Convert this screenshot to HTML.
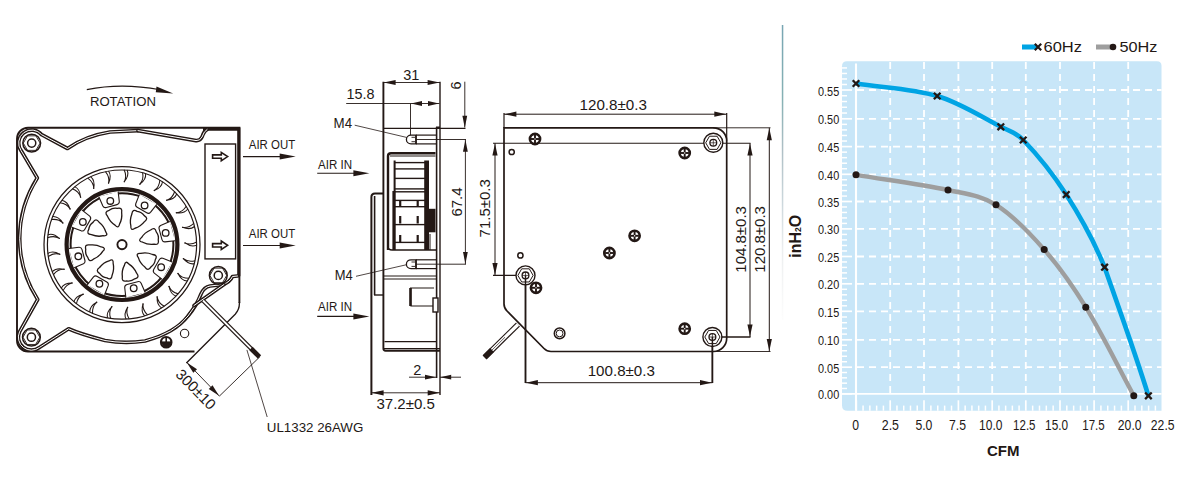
<!DOCTYPE html>
<html><head><meta charset="utf-8"><style>
html,body{margin:0;padding:0;background:#fff;}
body{width:1200px;height:500px;overflow:hidden;font-family:"Liberation Sans",sans-serif;}
svg{display:block;}
</style></head><body>
<svg width="1200" height="500" viewBox="0 0 1200 500">
<rect width="1200" height="500" fill="#fff"/>
<path d="M86.8,89.6 Q122,82.5 160,89.8" fill="none" stroke="#231815" stroke-width="1.1"/>
<path d="M173.2,93.4 L156.5,86.6 L155.8,92.2 Z" fill="#231815"/>
<text x="89.9" y="105.9" font-family="Liberation Sans" font-size="12" font-weight="normal" text-anchor="start" fill="#231815" textLength="66" lengthAdjust="spacingAndGlyphs">ROTATION</text>
<path d="M194.5,351.5 H28 A11,11 0 0 1 17,340.5 V138.8 A11,11 0 0 1 28,127.8 H239.4 V303" fill="none" stroke="#231815" stroke-width="1.9"/>
<path d="M239.4,302 V303.5 Q239.4,309.6 235.2,314.2 L186.4,363" fill="none" stroke="#231815" stroke-width="1.35"/>
<path d="M203,129.2 H238.8 V276.2" fill="none" stroke="#231815" stroke-width="3.2"/>
<rect x="205" y="144" width="30.6" height="114.9" fill="none" stroke="#231815" stroke-width="1.4"/>
<path d="M212.6,154.9 H221.3 V152.4 L227.6,156.6 L221.3,160.8 V158.3 H212.6 Z" fill="none" stroke="#231815" stroke-width="1.6" stroke-linejoin="miter"/>
<path d="M212.6,243.6 H221.3 V241.1 L227.6,245.3 L221.3,249.5 V247 H212.6 Z" fill="none" stroke="#231815" stroke-width="1.6" stroke-linejoin="miter"/>
<text x="248.8" y="148.7" font-family="Liberation Sans" font-size="12" font-weight="normal" text-anchor="start" fill="#231815" textLength="46.4" lengthAdjust="spacingAndGlyphs">AIR OUT</text>
<line x1="243" y1="156.6" x2="284" y2="156.6" stroke="#231815" stroke-width="1.1" stroke-linecap="butt"/>
<path d="M295.7,156.6 L279.7,159.6 L279.7,153.6 Z" fill="#231815"/>
<text x="248.8" y="237.8" font-family="Liberation Sans" font-size="12" font-weight="normal" text-anchor="start" fill="#231815" textLength="46.4" lengthAdjust="spacingAndGlyphs">AIR OUT</text>
<line x1="243" y1="245.5" x2="284" y2="245.5" stroke="#231815" stroke-width="1.1" stroke-linecap="butt"/>
<path d="M295.7,245.5 L279.7,248.5 L279.7,242.5 Z" fill="#231815"/>
<path d="M138,130.6 L110,132 Q85,136 67.5,148.5 L41.66,134.74 A13,13 0 0 0 21.05,150.56 L37.3,178 A112.4,112.4 0 0 0 37.7,299.5 L19.52,331.91 A13,13 0 0 0 39.4,347.44 L68.6,328.8 Q80,334 105,340.5 Q125,344 145,341 Q175,333 188,316 Q197,305 201,294 Q204,287 210,286 L223,284.5 Q230,282 232.5,276.5 L237.5,276" fill="none" stroke="#231815" stroke-width="3.7" stroke-linejoin="round" stroke-linecap="round" />
<path d="M138,130.6 L110,132 Q85,136 67.5,148.5 L41.66,134.74 A13,13 0 0 0 21.05,150.56 L37.3,178 A112.4,112.4 0 0 0 37.7,299.5 L19.52,331.91 A13,13 0 0 0 39.4,347.44 L68.6,328.8 Q80,334 105,340.5 Q125,344 145,341 Q175,333 188,316 Q197,305 201,294 Q204,287 210,286 L223,284.5 Q230,282 232.5,276.5 L237.5,276" fill="none" stroke="#fff" stroke-width="1.0" stroke-linejoin="round" stroke-linecap="round"/>
<path d="M138,130.6 L196,140.6 Q200,141 202,137 Q204,131 207,129.5" fill="none" stroke="#231815" stroke-width="3.7" stroke-linejoin="round" stroke-linecap="round" />
<path d="M138,130.6 L196,140.6 Q200,141 202,137 Q204,131 207,129.5" fill="none" stroke="#fff" stroke-width="1.0" stroke-linejoin="round" stroke-linecap="round"/>
<path d="M224,284.5 L194,305.5" fill="none" stroke="#231815" stroke-width="3.7" stroke-linejoin="round" stroke-linecap="round" />
<path d="M224,284.5 L194,305.5" fill="none" stroke="#fff" stroke-width="1.0" stroke-linejoin="round" stroke-linecap="round"/>
<circle cx="31.7" cy="143.1" r="8.9" fill="none" stroke="#231815" stroke-width="1.5"/>
<path d="M40.1,143.1 L35.9,150.37 L27.5,150.37 L23.3,143.1 L27.5,135.83 L35.9,135.83 Z" fill="none" stroke="#231815" stroke-width="0.9" stroke-linejoin="round"/>
<circle cx="31.7" cy="143.1" r="4.1" fill="none" stroke="#231815" stroke-width="1.5"/>
<circle cx="31.4" cy="337.2" r="8.9" fill="none" stroke="#231815" stroke-width="1.5"/>
<path d="M39.8,337.2 L35.6,344.47 L27.2,344.47 L23,337.2 L27.2,329.93 L35.6,329.93 Z" fill="none" stroke="#231815" stroke-width="0.9" stroke-linejoin="round"/>
<circle cx="31.4" cy="337.2" r="4.1" fill="none" stroke="#231815" stroke-width="1.5"/>
<circle cx="218.3" cy="275.4" r="8.9" fill="none" stroke="#231815" stroke-width="1.5"/>
<path d="M226.7,275.4 L222.5,282.67 L214.1,282.67 L209.9,275.4 L214.1,268.13 L222.5,268.13 Z" fill="none" stroke="#231815" stroke-width="0.9" stroke-linejoin="round"/>
<circle cx="218.3" cy="275.4" r="4.1" fill="none" stroke="#231815" stroke-width="1.5"/>
<circle cx="184.6" cy="333.5" r="4.2" fill="none" stroke="#231815" stroke-width="1.1"/>
<circle cx="166.2" cy="342.2" r="5.2" fill="#fff" stroke="#231815" stroke-width="2.2"/>
<line x1="166.2" y1="337.5" x2="166.2" y2="347" stroke="#231815" stroke-width="1.6" stroke-linecap="butt"/>
<line x1="161.5" y1="342.2" x2="171" y2="342.2" stroke="#231815" stroke-width="1.6" stroke-linecap="butt"/>
<path d="M161.5,342.2 A4.7,4.7 0 0 0 171,342.2 Z" fill="#231815"/>
<circle cx="122" cy="244.6" r="78" fill="none" stroke="#231815" stroke-width="1.25"/>
<circle cx="122" cy="244.6" r="74.6" fill="none" stroke="#231815" stroke-width="1.2"/>
<path d="M195.06,260.66 Q188.13,262.44 183.41,258.66 Q188.5,264.8 194.32,263.71" fill="none" stroke="#231815" stroke-width="1.05" stroke-linejoin="round"/>
<circle cx="183.41" cy="258.66" r="0.7" fill="#231815" stroke="none" stroke-width="0"/>
<path d="M188.77,278.33 Q181.62,278.33 177.98,273.49 Q181.38,280.71 187.29,281.09" fill="none" stroke="#231815" stroke-width="1.05" stroke-linejoin="round"/>
<circle cx="177.98" cy="273.49" r="0.7" fill="#231815" stroke="none" stroke-width="0"/>
<path d="M178.28,293.87 Q171.36,292.1 169.04,286.51 Q170.54,294.34 176.17,296.18" fill="none" stroke="#231815" stroke-width="1.05" stroke-linejoin="round"/>
<circle cx="169.04" cy="286.51" r="0.7" fill="#231815" stroke="none" stroke-width="0"/>
<path d="M164.26,306.32 Q157.99,302.88 157.14,296.89 Q156.64,304.85 161.64,308.03" fill="none" stroke="#231815" stroke-width="1.05" stroke-linejoin="round"/>
<circle cx="157.14" cy="296.89" r="0.7" fill="#231815" stroke="none" stroke-width="0"/>
<path d="M147.58,314.89 Q142.37,310 143.03,303.99 Q140.57,311.57 144.62,315.9" fill="none" stroke="#231815" stroke-width="1.05" stroke-linejoin="round"/>
<circle cx="143.03" cy="303.99" r="0.7" fill="#231815" stroke="none" stroke-width="0"/>
<path d="M129.3,319.04 Q125.47,313.01 127.6,307.35 Q123.33,314.09 126.18,319.28" fill="none" stroke="#231815" stroke-width="1.05" stroke-linejoin="round"/>
<circle cx="127.6" cy="307.35" r="0.7" fill="#231815" stroke="none" stroke-width="0"/>
<path d="M110.56,318.52 Q108.34,311.72 111.82,306.77 Q106.01,312.24 107.47,317.98" fill="none" stroke="#231815" stroke-width="1.05" stroke-linejoin="round"/>
<circle cx="111.82" cy="306.77" r="0.7" fill="#231815" stroke="none" stroke-width="0"/>
<path d="M92.53,313.35 Q92.08,306.22 96.68,302.29 Q89.69,306.13 89.68,312.06" fill="none" stroke="#231815" stroke-width="1.05" stroke-linejoin="round"/>
<circle cx="96.68" cy="302.29" r="0.7" fill="#231815" stroke="none" stroke-width="0"/>
<path d="M76.36,303.86 Q77.69,296.84 83.13,294.18 Q75.41,296.17 73.92,301.9" fill="none" stroke="#231815" stroke-width="1.05" stroke-linejoin="round"/>
<circle cx="83.13" cy="294.18" r="0.7" fill="#231815" stroke="none" stroke-width="0"/>
<path d="M63.06,290.65 Q66.09,284.18 72.02,282.95 Q64.04,282.96 61.18,288.14" fill="none" stroke="#231815" stroke-width="1.05" stroke-linejoin="round"/>
<circle cx="72.02" cy="282.95" r="0.7" fill="#231815" stroke="none" stroke-width="0"/>
<path d="M53.46,274.55 Q58.01,269.04 64.05,269.32 Q56.33,267.34 52.26,271.65" fill="none" stroke="#231815" stroke-width="1.05" stroke-linejoin="round"/>
<circle cx="64.05" cy="269.32" r="0.7" fill="#231815" stroke="none" stroke-width="0"/>
<path d="M48.16,256.56 Q53.94,252.35 59.72,254.13 Q52.73,250.29 47.73,253.46" fill="none" stroke="#231815" stroke-width="1.05" stroke-linejoin="round"/>
<circle cx="59.72" cy="254.13" r="0.7" fill="#231815" stroke="none" stroke-width="0"/>
<path d="M47.51,237.82 Q54.15,235.19 59.31,238.34 Q53.49,232.89 47.86,234.71" fill="none" stroke="#231815" stroke-width="1.05" stroke-linejoin="round"/>
<circle cx="59.31" cy="238.34" r="0.7" fill="#231815" stroke="none" stroke-width="0"/>
<path d="M51.53,219.51 Q58.62,218.61 62.84,222.95 Q58.56,216.22 52.65,216.58" fill="none" stroke="#231815" stroke-width="1.05" stroke-linejoin="round"/>
<circle cx="62.84" cy="222.95" r="0.7" fill="#231815" stroke="none" stroke-width="0"/>
<path d="M59.99,202.77 Q67.08,203.66 70.08,208.92 Q67.61,201.34 61.79,200.21" fill="none" stroke="#231815" stroke-width="1.05" stroke-linejoin="round"/>
<circle cx="70.08" cy="208.92" r="0.7" fill="#231815" stroke="none" stroke-width="0"/>
<path d="M72.34,188.66 Q78.98,191.29 80.59,197.13 Q80.08,189.17 74.72,186.63" fill="none" stroke="#231815" stroke-width="1.05" stroke-linejoin="round"/>
<circle cx="80.59" cy="197.13" r="0.7" fill="#231815" stroke="none" stroke-width="0"/>
<path d="M87.81,178.07 Q93.59,182.27 93.69,188.32 Q95.18,180.48 90.62,176.7" fill="none" stroke="#231815" stroke-width="1.05" stroke-linejoin="round"/>
<circle cx="93.69" cy="188.32" r="0.7" fill="#231815" stroke="none" stroke-width="0"/>
<path d="M105.43,171.66 Q109.99,177.16 108.58,183.05 Q111.97,175.83 108.5,171.03" fill="none" stroke="#231815" stroke-width="1.05" stroke-linejoin="round"/>
<circle cx="108.58" cy="183.05" r="0.7" fill="#231815" stroke="none" stroke-width="0"/>
<path d="M124.09,169.83 Q127.14,176.29 124.31,181.64 Q129.39,175.49 127.22,169.98" fill="none" stroke="#231815" stroke-width="1.05" stroke-linejoin="round"/>
<circle cx="124.31" cy="181.64" r="0.7" fill="#231815" stroke="none" stroke-width="0"/>
<path d="M142.62,172.7 Q143.96,179.72 139.89,184.19 Q146.34,179.5 145.61,173.62" fill="none" stroke="#231815" stroke-width="1.05" stroke-linejoin="round"/>
<circle cx="139.89" cy="184.19" r="0.7" fill="#231815" stroke="none" stroke-width="0"/>
<path d="M159.85,180.08 Q159.41,187.22 154.35,190.54 Q161.76,187.6 162.52,181.73" fill="none" stroke="#231815" stroke-width="1.05" stroke-linejoin="round"/>
<circle cx="154.35" cy="190.54" r="0.7" fill="#231815" stroke="none" stroke-width="0"/>
<path d="M174.71,191.52 Q172.5,198.32 166.78,200.29 Q174.69,199.28 176.88,193.78" fill="none" stroke="#231815" stroke-width="1.05" stroke-linejoin="round"/>
<circle cx="166.78" cy="200.29" r="0.7" fill="#231815" stroke="none" stroke-width="0"/>
<path d="M186.25,206.3 Q182.43,212.34 176.39,212.81 Q184.31,213.81 187.8,209.02" fill="none" stroke="#231815" stroke-width="1.05" stroke-linejoin="round"/>
<circle cx="176.39" cy="212.81" r="0.7" fill="#231815" stroke="none" stroke-width="0"/>
<path d="M193.76,223.48 Q188.55,228.38 182.59,227.34 Q190.01,230.27 194.58,226.5" fill="none" stroke="#231815" stroke-width="1.05" stroke-linejoin="round"/>
<circle cx="182.59" cy="227.34" r="0.7" fill="#231815" stroke="none" stroke-width="0"/>
<path d="M196.75,241.99 Q190.49,245.44 184.98,242.95 Q191.43,247.63 196.8,245.12" fill="none" stroke="#231815" stroke-width="1.05" stroke-linejoin="round"/>
<circle cx="184.98" cy="242.95" r="0.7" fill="#231815" stroke="none" stroke-width="0"/>
<circle cx="122" cy="244.6" r="55.4" fill="none" stroke="#231815" stroke-width="4.2"/>
<circle cx="122" cy="244.6" r="51.4" fill="none" stroke="#231815" stroke-width="2.0"/>
<g transform="translate(110.3,200.94) rotate(-15)"><path d="M-10,-7 L-8.5,3 Q-8,5.3 -5.5,5.3 L5.5,5.3 Q8,5.3 8.5,3 L10,-7" fill="#fff" stroke="#231815" stroke-width="1.1" stroke-linejoin="round"/></g>
<circle cx="110.3" cy="200.94" r="3.3" fill="#fff" stroke="#231815" stroke-width="1.3"/>
<g transform="translate(144.6,205.46) rotate(30)"><path d="M-10,-7 L-8.5,3 Q-8,5.3 -5.5,5.3 L5.5,5.3 Q8,5.3 8.5,3 L10,-7" fill="#fff" stroke="#231815" stroke-width="1.1" stroke-linejoin="round"/></g>
<circle cx="144.6" cy="205.46" r="3.3" fill="#fff" stroke="#231815" stroke-width="1.3"/>
<g transform="translate(165.66,232.9) rotate(75)"><path d="M-10,-7 L-8.5,3 Q-8,5.3 -5.5,5.3 L5.5,5.3 Q8,5.3 8.5,3 L10,-7" fill="#fff" stroke="#231815" stroke-width="1.1" stroke-linejoin="round"/></g>
<circle cx="165.66" cy="232.9" r="3.3" fill="#fff" stroke="#231815" stroke-width="1.3"/>
<g transform="translate(161.14,267.2) rotate(120)"><path d="M-10,-7 L-8.5,3 Q-8,5.3 -5.5,5.3 L5.5,5.3 Q8,5.3 8.5,3 L10,-7" fill="#fff" stroke="#231815" stroke-width="1.1" stroke-linejoin="round"/></g>
<circle cx="161.14" cy="267.2" r="3.3" fill="#fff" stroke="#231815" stroke-width="1.3"/>
<g transform="translate(133.7,288.26) rotate(165)"><path d="M-10,-7 L-8.5,3 Q-8,5.3 -5.5,5.3 L5.5,5.3 Q8,5.3 8.5,3 L10,-7" fill="#fff" stroke="#231815" stroke-width="1.1" stroke-linejoin="round"/></g>
<circle cx="133.7" cy="288.26" r="3.3" fill="#fff" stroke="#231815" stroke-width="1.3"/>
<g transform="translate(99.4,283.74) rotate(210)"><path d="M-10,-7 L-8.5,3 Q-8,5.3 -5.5,5.3 L5.5,5.3 Q8,5.3 8.5,3 L10,-7" fill="#fff" stroke="#231815" stroke-width="1.1" stroke-linejoin="round"/></g>
<circle cx="99.4" cy="283.74" r="3.3" fill="#fff" stroke="#231815" stroke-width="1.3"/>
<g transform="translate(78.34,256.3) rotate(255)"><path d="M-10,-7 L-8.5,3 Q-8,5.3 -5.5,5.3 L5.5,5.3 Q8,5.3 8.5,3 L10,-7" fill="#fff" stroke="#231815" stroke-width="1.1" stroke-linejoin="round"/></g>
<circle cx="78.34" cy="256.3" r="3.3" fill="#fff" stroke="#231815" stroke-width="1.3"/>
<g transform="translate(82.86,222) rotate(300)"><path d="M-10,-7 L-8.5,3 Q-8,5.3 -5.5,5.3 L5.5,5.3 Q8,5.3 8.5,3 L10,-7" fill="#fff" stroke="#231815" stroke-width="1.1" stroke-linejoin="round"/></g>
<circle cx="82.86" cy="222" r="3.3" fill="#fff" stroke="#231815" stroke-width="1.3"/>
<path d="M107.38,216 Q103.77,211.71 109.2,210.36 Q112.72,207.53 117.22,208.36 Q122.66,207.01 121.66,212.52 Q122.41,218.87 119.62,223.86 Q118.62,229.37 115.02,225.08 Q109.97,221.99 107.38,216 Z" fill="none" stroke="#231815" stroke-width="1.3" stroke-linejoin="round"/>
<path d="M131.88,214.04 Q132.36,208.46 137.16,211.34 Q141.65,211.82 144.25,215.6 Q149.05,218.48 144.45,221.68 Q140.49,226.7 134.98,228.25 Q130.38,231.44 130.86,225.86 Q129.48,220.11 131.88,214.04 Z" fill="none" stroke="#231815" stroke-width="1.3" stroke-linejoin="round"/>
<path d="M150.6,229.98 Q154.89,226.37 156.24,231.8 Q159.07,235.32 158.24,239.82 Q159.59,245.26 154.08,244.26 Q147.73,245.01 142.74,242.22 Q137.23,241.22 141.52,237.62 Q144.61,232.57 150.6,229.98 Z" fill="none" stroke="#231815" stroke-width="1.3" stroke-linejoin="round"/>
<path d="M152.56,254.48 Q158.14,254.96 155.26,259.76 Q154.78,264.25 151,266.85 Q148.12,271.65 144.92,267.05 Q139.9,263.09 138.35,257.58 Q135.16,252.98 140.74,253.46 Q146.49,252.08 152.56,254.48 Z" fill="none" stroke="#231815" stroke-width="1.3" stroke-linejoin="round"/>
<path d="M136.62,273.2 Q140.23,277.49 134.8,278.84 Q131.28,281.67 126.78,280.84 Q121.34,282.19 122.34,276.68 Q121.59,270.33 124.38,265.34 Q125.38,259.83 128.98,264.12 Q134.03,267.21 136.62,273.2 Z" fill="none" stroke="#231815" stroke-width="1.3" stroke-linejoin="round"/>
<path d="M112.12,275.16 Q111.64,280.74 106.84,277.86 Q102.35,277.38 99.75,273.6 Q94.95,270.72 99.55,267.52 Q103.51,262.5 109.02,260.95 Q113.62,257.76 113.14,263.34 Q114.52,269.09 112.12,275.16 Z" fill="none" stroke="#231815" stroke-width="1.3" stroke-linejoin="round"/>
<path d="M93.4,259.22 Q89.11,262.83 87.76,257.4 Q84.93,253.88 85.76,249.38 Q84.41,243.94 89.92,244.94 Q96.27,244.19 101.26,246.98 Q106.77,247.98 102.48,251.58 Q99.39,256.63 93.4,259.22 Z" fill="none" stroke="#231815" stroke-width="1.3" stroke-linejoin="round"/>
<path d="M91.44,234.72 Q85.86,234.24 88.74,229.44 Q89.22,224.95 93,222.35 Q95.88,217.55 99.08,222.15 Q104.1,226.11 105.65,231.62 Q108.84,236.22 103.26,235.74 Q97.51,237.12 91.44,234.72 Z" fill="none" stroke="#231815" stroke-width="1.3" stroke-linejoin="round"/>
<circle cx="122" cy="244.6" r="4.6" fill="none" stroke="#231815" stroke-width="1.9"/>
<path d="M203,300.5 L257,354.5" stroke="#231815" stroke-width="4.2" fill="none"/>
<path d="M203,300.5 L257,354.5" stroke="#fff" stroke-width="1.8" fill="none"/>
<path d="M251,348.5 L259.5,357" stroke="#231815" stroke-width="4.6" fill="none"/>
<line x1="260.1" y1="356.5" x2="219.4" y2="396.1" stroke="#231815" stroke-width="0.9" stroke-linecap="butt"/>
<line x1="186.4" y1="362" x2="219.4" y2="396.1" stroke="#231815" stroke-width="0.9" stroke-linecap="butt"/>
<path d="M186.8,362.4 L197.02,369.2 L193.29,372.82 Z" fill="#231815"/>
<path d="M219,395.7 L208.78,388.9 L212.51,385.28 Z" fill="#231815"/>
<text x="0" y="0" font-family="Liberation Sans" font-size="15" fill="#231815" text-anchor="middle" transform="translate(192.2,393) rotate(45.5)">300±10</text>
<line x1="246.9" y1="349.9" x2="267.2" y2="417" stroke="#231815" stroke-width="0.8" stroke-linecap="butt"/>
<text x="266.8" y="432" font-family="Liberation Sans" font-size="13" font-weight="normal" text-anchor="start" fill="#231815" textLength="96.5" lengthAdjust="spacingAndGlyphs">UL1332 26AWG</text>
<path d="M383.4,81.7 V348.6 Q383.4,350.8 385.6,350.8 H440" fill="none" stroke="#231815" stroke-width="1.9"/>
<line x1="440" y1="81.7" x2="440" y2="395" stroke="#231815" stroke-width="1.4" stroke-linecap="butt"/>
<line x1="383.2" y1="82.5" x2="440" y2="82.5" stroke="#231815" stroke-width="0.9" stroke-linecap="butt"/>
<path d="M383.6,82.5 L395.6,79.9 L395.6,85.1 Z" fill="#231815"/>
<path d="M439.6,82.5 L427.6,85.1 L427.6,79.9 Z" fill="#231815"/>
<text x="411.3" y="80.3" font-family="Liberation Sans" font-size="14.5" font-weight="normal" text-anchor="middle" fill="#231815" >31</text>
<text x="346.6" y="99.3" font-family="Liberation Sans" font-size="14.5" font-weight="normal" text-anchor="start" fill="#231815" textLength="28" lengthAdjust="spacingAndGlyphs">15.8</text>
<line x1="346.2" y1="103.5" x2="439.5" y2="103.5" stroke="#231815" stroke-width="0.9" stroke-linecap="butt"/>
<line x1="410.5" y1="103.5" x2="410.5" y2="135.5" stroke="#231815" stroke-width="0.9" stroke-linecap="butt"/>
<path d="M411,103.5 L422,101.1 L422,105.9 Z" fill="#231815"/>
<path d="M439,103.5 L428,105.9 L428,101.1 Z" fill="#231815"/>
<line x1="464.8" y1="81.7" x2="464.8" y2="127.5" stroke="#231815" stroke-width="0.9" stroke-linecap="butt"/>
<path d="M464.8,127.8 L462.4,115.8 L467.2,115.8 Z" fill="#231815"/>
<text font-family="Liberation Sans" font-size="14.5" fill="#231815" text-anchor="middle" transform="translate(461.4,85.5) rotate(-90)">6</text>
<line x1="383" y1="128.4" x2="465.5" y2="128.4" stroke="#231815" stroke-width="1.2" stroke-linecap="butt"/>
<text x="333.6" y="128.3" font-family="Liberation Sans" font-size="14.5" font-weight="normal" text-anchor="start" fill="#231815" textLength="18.5" lengthAdjust="spacingAndGlyphs">M4</text>
<line x1="354.7" y1="125.2" x2="407" y2="137.5" stroke="#231815" stroke-width="0.8" stroke-linecap="butt"/>
<text x="334.8" y="280.4" font-family="Liberation Sans" font-size="14.5" font-weight="normal" text-anchor="start" fill="#231815" textLength="18" lengthAdjust="spacingAndGlyphs">M4</text>
<line x1="356" y1="276.3" x2="407" y2="264.6" stroke="#231815" stroke-width="0.8" stroke-linecap="butt"/>
<line x1="416" y1="139.5" x2="466" y2="139.5" stroke="#231815" stroke-width="0.9" stroke-linecap="butt"/>
<line x1="416" y1="264.2" x2="466" y2="264.2" stroke="#231815" stroke-width="0.9" stroke-linecap="butt"/>
<line x1="465.4" y1="139.5" x2="465.4" y2="264.2" stroke="#231815" stroke-width="0.9" stroke-linecap="butt"/>
<path d="M465.4,139.8 L467.8,151.8 L463,151.8 Z" fill="#231815"/>
<path d="M465.4,263.9 L463,251.9 L467.8,251.9 Z" fill="#231815"/>
<text font-family="Liberation Sans" font-size="15" fill="#231815" text-anchor="middle" transform="translate(461.6,202) rotate(-90)">67.4</text>
<path d="M416,135.1 H411 A4.6,4.4 0 0 0 411,143.9 H416 Z" fill="#fff" stroke="#231815" stroke-width="1.3"/>
<line x1="416" y1="135.1" x2="416" y2="143.9" stroke="#231815" stroke-width="1.6" stroke-linecap="butt"/>
<line x1="416" y1="135.1" x2="436" y2="135.1" stroke="#231815" stroke-width="1.2" stroke-linecap="butt"/>
<line x1="416" y1="143.9" x2="436" y2="143.9" stroke="#231815" stroke-width="1.2" stroke-linecap="butt"/>
<line x1="411.5" y1="137.3" x2="415" y2="137.3" stroke="#231815" stroke-width="0.9" stroke-linecap="butt"/>
<line x1="411.5" y1="141.7" x2="415" y2="141.7" stroke="#231815" stroke-width="0.9" stroke-linecap="butt"/>
<path d="M416,259.8 H411 A4.6,4.4 0 0 0 411,268.6 H416 Z" fill="#fff" stroke="#231815" stroke-width="1.3"/>
<line x1="416" y1="259.8" x2="416" y2="268.6" stroke="#231815" stroke-width="1.6" stroke-linecap="butt"/>
<line x1="416" y1="259.8" x2="436" y2="259.8" stroke="#231815" stroke-width="1.2" stroke-linecap="butt"/>
<line x1="416" y1="268.6" x2="436" y2="268.6" stroke="#231815" stroke-width="1.2" stroke-linecap="butt"/>
<line x1="411.5" y1="262" x2="415" y2="262" stroke="#231815" stroke-width="0.9" stroke-linecap="butt"/>
<line x1="411.5" y1="266.4" x2="415" y2="266.4" stroke="#231815" stroke-width="0.9" stroke-linecap="butt"/>
<line x1="436.6" y1="127" x2="436.6" y2="378" stroke="#231815" stroke-width="1.6" stroke-linecap="butt"/>
<rect x="436" y="126.5" width="4" height="2" fill="#231815"/>
<path d="M388,250 V156 Q388,153.2 391,153.2 H435.5" fill="none" stroke="#231815" stroke-width="2.4"/>
<line x1="390" y1="156" x2="435.5" y2="156" stroke="#231815" stroke-width="1.1" stroke-linecap="butt"/>
<path d="M388,246 Q388,250 392,250 H436" fill="none" stroke="#231815" stroke-width="1.4"/>
<rect x="393.6" y="160.5" width="2" height="31" fill="#231815"/>
<rect x="392.4" y="191" width="3.3" height="59" fill="#231815"/>
<rect x="424.2" y="160.5" width="4.8" height="89.5" fill="#231815"/>
<line x1="395" y1="162.6" x2="425" y2="162.6" stroke="#231815" stroke-width="1.4" stroke-linecap="butt"/>
<line x1="395" y1="168.9" x2="425" y2="168.9" stroke="#231815" stroke-width="1.4" stroke-linecap="butt"/>
<line x1="395" y1="178.4" x2="425" y2="178.4" stroke="#231815" stroke-width="1.4" stroke-linecap="butt"/>
<line x1="395" y1="188.9" x2="425" y2="188.9" stroke="#231815" stroke-width="1.4" stroke-linecap="butt"/>
<line x1="395" y1="191.8" x2="425" y2="191.8" stroke="#231815" stroke-width="1.4" stroke-linecap="butt"/>
<line x1="395" y1="200.4" x2="425" y2="200.4" stroke="#231815" stroke-width="1.4" stroke-linecap="butt"/>
<line x1="395" y1="206.7" x2="425" y2="206.7" stroke="#231815" stroke-width="1.4" stroke-linecap="butt"/>
<line x1="395" y1="224.6" x2="425" y2="224.6" stroke="#231815" stroke-width="1.4" stroke-linecap="butt"/>
<line x1="395" y1="242.4" x2="425" y2="242.4" stroke="#231815" stroke-width="1.4" stroke-linecap="butt"/>
<rect x="399.1" y="200.4" width="2.2" height="6.3" fill="#231815"/>
<rect x="416.6" y="200.4" width="2.2" height="6.3" fill="#231815"/>
<rect x="399.1" y="216" width="2.2" height="7.5" fill="#231815"/>
<rect x="416.6" y="216" width="2.2" height="7.5" fill="#231815"/>
<rect x="399.1" y="235" width="2.2" height="7.4" fill="#231815"/>
<rect x="416.6" y="235" width="2.2" height="7.4" fill="#231815"/>
<rect x="425" y="208.8" width="10.5" height="23.5" fill="#231815"/>
<line x1="430" y1="234" x2="430" y2="250" stroke="#231815" stroke-width="1.0" stroke-linecap="butt"/>
<path d="M371.4,395 V197 Q371.4,193.4 375,193.4 H383" fill="none" stroke="#231815" stroke-width="2.0"/>
<line x1="374.6" y1="196" x2="374.6" y2="295" stroke="#231815" stroke-width="1.6" stroke-linecap="butt"/>
<line x1="374" y1="295" x2="383" y2="295" stroke="#231815" stroke-width="1.4" stroke-linecap="butt"/>
<line x1="383" y1="276" x2="436" y2="276" stroke="#231815" stroke-width="1.0" stroke-linecap="butt"/>
<line x1="383" y1="279" x2="436" y2="279" stroke="#231815" stroke-width="1.0" stroke-linecap="butt"/>
<path d="M410,288 H434 M411,288 V306 H434" fill="none" stroke="#231815" stroke-width="1.2"/>
<rect x="409.2" y="288" width="2.4" height="18" fill="#231815"/>
<rect x="433" y="298" width="5" height="14" fill="#fff" stroke="#231815" stroke-width="1.4"/>
<line x1="384.5" y1="341.6" x2="436" y2="341.6" stroke="#231815" stroke-width="1.3" stroke-linecap="butt"/>
<line x1="384" y1="348.6" x2="440" y2="348.6" stroke="#231815" stroke-width="1.1" stroke-linecap="butt"/>
<text x="318" y="169" font-family="Liberation Sans" font-size="12" font-weight="normal" text-anchor="start" fill="#231815" textLength="34" lengthAdjust="spacingAndGlyphs">AIR IN</text>
<line x1="317.2" y1="173.2" x2="356" y2="173.2" stroke="#231815" stroke-width="1.1" stroke-linecap="butt"/>
<path d="M369.4,173.2 L353.4,176.2 L353.4,170.2 Z" fill="#231815"/>
<text x="318" y="311.2" font-family="Liberation Sans" font-size="12" font-weight="normal" text-anchor="start" fill="#231815" textLength="34" lengthAdjust="spacingAndGlyphs">AIR IN</text>
<line x1="317.2" y1="316.4" x2="356" y2="316.4" stroke="#231815" stroke-width="1.1" stroke-linecap="butt"/>
<path d="M369.4,316.4 L353.4,319.4 L353.4,313.4 Z" fill="#231815"/>
<line x1="409" y1="377.2" x2="436" y2="377.2" stroke="#231815" stroke-width="0.9" stroke-linecap="butt"/>
<path d="M436,377.2 L425,379.6 L425,374.8 Z" fill="#231815"/>
<line x1="440" y1="377.2" x2="461" y2="377.2" stroke="#231815" stroke-width="0.9" stroke-linecap="butt"/>
<path d="M440.2,377.2 L451.2,374.8 L451.2,379.6 Z" fill="#231815"/>
<text x="413.3" y="375.4" font-family="Liberation Sans" font-size="14.5" font-weight="normal" text-anchor="start" fill="#231815" >2</text>
<line x1="371.3" y1="392.8" x2="440" y2="392.8" stroke="#231815" stroke-width="0.9" stroke-linecap="butt"/>
<path d="M371.6,392.8 L383.6,390.2 L383.6,395.4 Z" fill="#231815"/>
<path d="M439.7,392.8 L427.7,395.4 L427.7,390.2 Z" fill="#231815"/>
<text x="405.7" y="409.2" font-family="Liberation Sans" font-size="14.5" font-weight="normal" text-anchor="middle" fill="#231815" textLength="58.5" lengthAdjust="spacingAndGlyphs">37.2±0.5</text>
<path d="M504,127.8 H713.5 A13.2,13.2 0 0 1 726.7,141 V338.3 A13.2,13.2 0 0 1 713.5,351.5 H551 Q547,351.5 544,348.5 L507,311 Q504,308 504,304 Z" fill="none" stroke="#231815" stroke-width="1.7"/>
<line x1="504" y1="113" x2="504" y2="128" stroke="#231815" stroke-width="1.2" stroke-linecap="butt"/>
<line x1="726.7" y1="113" x2="726.7" y2="141" stroke="#231815" stroke-width="1.2" stroke-linecap="butt"/>
<line x1="713" y1="127.8" x2="770.5" y2="127.8" stroke="#231815" stroke-width="0.9" stroke-linecap="butt"/>
<line x1="493" y1="143.2" x2="750.5" y2="143.2" stroke="#231815" stroke-width="1.1" stroke-linecap="butt"/>
<line x1="493" y1="275.4" x2="525.5" y2="275.4" stroke="#231815" stroke-width="1.2" stroke-linecap="butt"/>
<line x1="712.5" y1="337" x2="750.5" y2="337" stroke="#231815" stroke-width="1.4" stroke-linecap="butt"/>
<line x1="713" y1="351.5" x2="770.5" y2="351.5" stroke="#231815" stroke-width="0.9" stroke-linecap="butt"/>
<line x1="525.5" y1="275.4" x2="525.5" y2="383" stroke="#231815" stroke-width="1.5" stroke-linecap="butt"/>
<line x1="712.4" y1="337" x2="712.4" y2="383" stroke="#231815" stroke-width="1.5" stroke-linecap="butt"/>
<line x1="504" y1="114.2" x2="726.7" y2="114.2" stroke="#231815" stroke-width="1.0" stroke-linecap="butt"/>
<path d="M504.4,114.2 L516.4,111.6 L516.4,116.8 Z" fill="#231815"/>
<path d="M726.3,114.2 L714.3,116.8 L714.3,111.6 Z" fill="#231815"/>
<text x="613.2" y="109.8" font-family="Liberation Sans" font-size="15.3" font-weight="normal" text-anchor="middle" fill="#231815" textLength="67.4" lengthAdjust="spacingAndGlyphs">120.8±0.3</text>
<line x1="525.5" y1="382.7" x2="712.4" y2="382.7" stroke="#231815" stroke-width="1.0" stroke-linecap="butt"/>
<path d="M525.9,382.7 L537.9,380.1 L537.9,385.3 Z" fill="#231815"/>
<path d="M712,382.7 L700,385.3 L700,380.1 Z" fill="#231815"/>
<text x="621.3" y="375.5" font-family="Liberation Sans" font-size="15.3" font-weight="normal" text-anchor="middle" fill="#231815" textLength="67.2" lengthAdjust="spacingAndGlyphs">100.8±0.3</text>
<line x1="495" y1="143.2" x2="495" y2="275.4" stroke="#231815" stroke-width="1.0" stroke-linecap="butt"/>
<path d="M495,143.6 L497.6,155.6 L492.4,155.6 Z" fill="#231815"/>
<path d="M495,275 L492.4,263 L497.6,263 Z" fill="#231815"/>
<text font-family="Liberation Sans" font-size="15" fill="#231815" text-anchor="middle" transform="translate(490.3,208.3) rotate(-90)">71.5±0.3</text>
<line x1="750" y1="143.2" x2="750" y2="337" stroke="#231815" stroke-width="1.0" stroke-linecap="butt"/>
<path d="M750,143.6 L752.6,155.6 L747.4,155.6 Z" fill="#231815"/>
<path d="M750,336.6 L747.4,324.6 L752.6,324.6 Z" fill="#231815"/>
<text font-family="Liberation Sans" font-size="15" fill="#231815" text-anchor="middle" transform="translate(745.5,239.4) rotate(-90)">104.8±0.3</text>
<line x1="769.3" y1="127.8" x2="769.3" y2="351.5" stroke="#231815" stroke-width="1.0" stroke-linecap="butt"/>
<path d="M769.3,128.2 L771.9,140.2 L766.7,140.2 Z" fill="#231815"/>
<path d="M769.3,351.1 L766.7,339.1 L771.9,339.1 Z" fill="#231815"/>
<text font-family="Liberation Sans" font-size="15" fill="#231815" text-anchor="middle" transform="translate(764.7,239.4) rotate(-90)">120.8±0.3</text>
<circle cx="713.3" cy="142.8" r="9.5" fill="#fff" stroke="#231815" stroke-width="1.4"/>
<path d="M720.9,142.8 L717.1,149.38 L709.5,149.38 L705.7,142.8 L709.5,136.22 L717.1,136.22 Z" fill="none" stroke="#231815" stroke-width="1.0" stroke-linejoin="round"/>
<circle cx="713.3" cy="142.8" r="3.4" fill="none" stroke="#231815" stroke-width="1.3"/>
<line x1="709.9" y1="142.8" x2="716.7" y2="142.8" stroke="#231815" stroke-width="0.7" stroke-linecap="butt"/>
<line x1="713.3" y1="139.4" x2="713.3" y2="146.2" stroke="#231815" stroke-width="0.7" stroke-linecap="butt"/>
<circle cx="712.4" cy="337" r="9.5" fill="#fff" stroke="#231815" stroke-width="1.4"/>
<path d="M720,337 L716.2,343.58 L708.6,343.58 L704.8,337 L708.6,330.42 L716.2,330.42 Z" fill="none" stroke="#231815" stroke-width="1.0" stroke-linejoin="round"/>
<circle cx="712.4" cy="337" r="3.4" fill="none" stroke="#231815" stroke-width="1.3"/>
<line x1="709" y1="337" x2="715.8" y2="337" stroke="#231815" stroke-width="0.7" stroke-linecap="butt"/>
<line x1="712.4" y1="333.6" x2="712.4" y2="340.4" stroke="#231815" stroke-width="0.7" stroke-linecap="butt"/>
<circle cx="525.5" cy="275.4" r="9.5" fill="#fff" stroke="#231815" stroke-width="1.4"/>
<path d="M533.1,275.4 L529.3,281.98 L521.7,281.98 L517.9,275.4 L521.7,268.82 L529.3,268.82 Z" fill="none" stroke="#231815" stroke-width="1.0" stroke-linejoin="round"/>
<circle cx="525.5" cy="275.4" r="3.4" fill="none" stroke="#231815" stroke-width="1.3"/>
<line x1="522.1" y1="275.4" x2="528.9" y2="275.4" stroke="#231815" stroke-width="0.7" stroke-linecap="butt"/>
<line x1="525.5" y1="272" x2="525.5" y2="278.8" stroke="#231815" stroke-width="0.7" stroke-linecap="butt"/>
<line x1="525.5" y1="275.4" x2="525.5" y2="383" stroke="#231815" stroke-width="1.5" stroke-linecap="butt"/>
<line x1="712.4" y1="337" x2="712.4" y2="383" stroke="#231815" stroke-width="1.5" stroke-linecap="butt"/>
<circle cx="535" cy="139" r="5.1" fill="#fff" stroke="#231815" stroke-width="2.6"/>
<line x1="530.8" y1="139" x2="539.2" y2="139" stroke="#231815" stroke-width="1.9" stroke-linecap="butt"/>
<line x1="535" y1="134.8" x2="535" y2="143.2" stroke="#231815" stroke-width="1.9" stroke-linecap="butt"/>
<rect x="534.4" y="138.4" width="1.2" height="1.2" fill="#fff"/>
<circle cx="684.7" cy="153" r="5.1" fill="#fff" stroke="#231815" stroke-width="2.6"/>
<line x1="680.5" y1="153" x2="688.9" y2="153" stroke="#231815" stroke-width="1.9" stroke-linecap="butt"/>
<line x1="684.7" y1="148.8" x2="684.7" y2="157.2" stroke="#231815" stroke-width="1.9" stroke-linecap="butt"/>
<rect x="684.1" y="152.4" width="1.2" height="1.2" fill="#fff"/>
<circle cx="634.6" cy="235.8" r="5.1" fill="#fff" stroke="#231815" stroke-width="2.6"/>
<line x1="630.4" y1="235.8" x2="638.8" y2="235.8" stroke="#231815" stroke-width="1.9" stroke-linecap="butt"/>
<line x1="634.6" y1="231.6" x2="634.6" y2="240" stroke="#231815" stroke-width="1.9" stroke-linecap="butt"/>
<rect x="634" y="235.2" width="1.2" height="1.2" fill="#fff"/>
<circle cx="609.4" cy="253" r="5.1" fill="#fff" stroke="#231815" stroke-width="2.6"/>
<line x1="605.2" y1="253" x2="613.6" y2="253" stroke="#231815" stroke-width="1.9" stroke-linecap="butt"/>
<line x1="609.4" y1="248.8" x2="609.4" y2="257.2" stroke="#231815" stroke-width="1.9" stroke-linecap="butt"/>
<rect x="608.8" y="252.4" width="1.2" height="1.2" fill="#fff"/>
<circle cx="536" cy="287.8" r="5.1" fill="#fff" stroke="#231815" stroke-width="2.6"/>
<line x1="531.8" y1="287.8" x2="540.2" y2="287.8" stroke="#231815" stroke-width="1.9" stroke-linecap="butt"/>
<line x1="536" y1="283.6" x2="536" y2="292" stroke="#231815" stroke-width="1.9" stroke-linecap="butt"/>
<rect x="535.4" y="287.2" width="1.2" height="1.2" fill="#fff"/>
<circle cx="684.7" cy="328.7" r="5.1" fill="#fff" stroke="#231815" stroke-width="2.6"/>
<line x1="680.5" y1="328.7" x2="688.9" y2="328.7" stroke="#231815" stroke-width="1.9" stroke-linecap="butt"/>
<line x1="684.7" y1="324.5" x2="684.7" y2="332.9" stroke="#231815" stroke-width="1.9" stroke-linecap="butt"/>
<rect x="684.1" y="328.1" width="1.2" height="1.2" fill="#fff"/>
<circle cx="511.7" cy="152" r="2.6" fill="none" stroke="#231815" stroke-width="1.5"/>
<circle cx="520.4" cy="255.4" r="2.6" fill="none" stroke="#231815" stroke-width="1.5"/>
<circle cx="559.6" cy="333.4" r="5.3" fill="none" stroke="#231815" stroke-width="1.5"/>
<circle cx="559.6" cy="333.4" r="3.4" fill="none" stroke="#231815" stroke-width="1.0"/>
<path d="M518,324.5 L485,357" stroke="#231815" stroke-width="5.6" fill="none"/>
<path d="M518,324.5 L489,353" stroke="#fff" stroke-width="3.2" fill="none"/>
<path d="M505,337.2 L490,352" stroke="#231815" stroke-width="0.7" fill="none"/>
<path d="M492,350 L484.5,357.5" stroke="#231815" stroke-width="5.4" fill="none"/>
<defs><linearGradient id="sep" x1="0" y1="0" x2="0" y2="1"><stop offset="0" stop-color="#78a6b3"/><stop offset="0.25" stop-color="#86b1b4"/><stop offset="0.42" stop-color="#aebfc5"/><stop offset="0.59" stop-color="#cad6db"/><stop offset="0.76" stop-color="#eceeef"/><stop offset="1" stop-color="#fdfdfd"/></linearGradient></defs>
<rect x="781.8" y="25" width="1.5" height="295" fill="url(#sep)"/>
<path d="M847,61.2 H1157 Q1161.5,61.2 1161.5,65.7 V410.7 H847.5 Q842,410.7 842,405.2 V66.2 Q842,61.2 847,61.2 Z" fill="#c8e6f8"/>
<line x1="842" y1="393.8" x2="852" y2="393.8" stroke="#fff" stroke-width="1.7" stroke-linecap="butt"/>
<line x1="842" y1="388.48" x2="847" y2="388.48" stroke="#fff" stroke-width="1.5" stroke-linecap="butt"/>
<line x1="842" y1="383.16" x2="847" y2="383.16" stroke="#fff" stroke-width="1.5" stroke-linecap="butt"/>
<line x1="842" y1="377.84" x2="847" y2="377.84" stroke="#fff" stroke-width="1.5" stroke-linecap="butt"/>
<line x1="842" y1="372.52" x2="847" y2="372.52" stroke="#fff" stroke-width="1.5" stroke-linecap="butt"/>
<line x1="842" y1="367.2" x2="852" y2="367.2" stroke="#fff" stroke-width="1.7" stroke-linecap="butt"/>
<line x1="842" y1="361.72" x2="847" y2="361.72" stroke="#fff" stroke-width="1.5" stroke-linecap="butt"/>
<line x1="842" y1="356.24" x2="847" y2="356.24" stroke="#fff" stroke-width="1.5" stroke-linecap="butt"/>
<line x1="842" y1="350.76" x2="847" y2="350.76" stroke="#fff" stroke-width="1.5" stroke-linecap="butt"/>
<line x1="842" y1="345.28" x2="847" y2="345.28" stroke="#fff" stroke-width="1.5" stroke-linecap="butt"/>
<line x1="842" y1="339.8" x2="852" y2="339.8" stroke="#fff" stroke-width="1.7" stroke-linecap="butt"/>
<line x1="842" y1="334.1" x2="847" y2="334.1" stroke="#fff" stroke-width="1.5" stroke-linecap="butt"/>
<line x1="842" y1="328.4" x2="847" y2="328.4" stroke="#fff" stroke-width="1.5" stroke-linecap="butt"/>
<line x1="842" y1="322.7" x2="847" y2="322.7" stroke="#fff" stroke-width="1.5" stroke-linecap="butt"/>
<line x1="842" y1="317" x2="847" y2="317" stroke="#fff" stroke-width="1.5" stroke-linecap="butt"/>
<line x1="842" y1="311.3" x2="852" y2="311.3" stroke="#fff" stroke-width="1.7" stroke-linecap="butt"/>
<line x1="842" y1="305.8" x2="847" y2="305.8" stroke="#fff" stroke-width="1.5" stroke-linecap="butt"/>
<line x1="842" y1="300.3" x2="847" y2="300.3" stroke="#fff" stroke-width="1.5" stroke-linecap="butt"/>
<line x1="842" y1="294.8" x2="847" y2="294.8" stroke="#fff" stroke-width="1.5" stroke-linecap="butt"/>
<line x1="842" y1="289.3" x2="847" y2="289.3" stroke="#fff" stroke-width="1.5" stroke-linecap="butt"/>
<line x1="842" y1="283.8" x2="852" y2="283.8" stroke="#fff" stroke-width="1.7" stroke-linecap="butt"/>
<line x1="842" y1="278.34" x2="847" y2="278.34" stroke="#fff" stroke-width="1.5" stroke-linecap="butt"/>
<line x1="842" y1="272.88" x2="847" y2="272.88" stroke="#fff" stroke-width="1.5" stroke-linecap="butt"/>
<line x1="842" y1="267.42" x2="847" y2="267.42" stroke="#fff" stroke-width="1.5" stroke-linecap="butt"/>
<line x1="842" y1="261.96" x2="847" y2="261.96" stroke="#fff" stroke-width="1.5" stroke-linecap="butt"/>
<line x1="842" y1="256.5" x2="852" y2="256.5" stroke="#fff" stroke-width="1.7" stroke-linecap="butt"/>
<line x1="842" y1="250.98" x2="847" y2="250.98" stroke="#fff" stroke-width="1.5" stroke-linecap="butt"/>
<line x1="842" y1="245.46" x2="847" y2="245.46" stroke="#fff" stroke-width="1.5" stroke-linecap="butt"/>
<line x1="842" y1="239.94" x2="847" y2="239.94" stroke="#fff" stroke-width="1.5" stroke-linecap="butt"/>
<line x1="842" y1="234.42" x2="847" y2="234.42" stroke="#fff" stroke-width="1.5" stroke-linecap="butt"/>
<line x1="842" y1="228.9" x2="852" y2="228.9" stroke="#fff" stroke-width="1.7" stroke-linecap="butt"/>
<line x1="842" y1="223.42" x2="847" y2="223.42" stroke="#fff" stroke-width="1.5" stroke-linecap="butt"/>
<line x1="842" y1="217.94" x2="847" y2="217.94" stroke="#fff" stroke-width="1.5" stroke-linecap="butt"/>
<line x1="842" y1="212.46" x2="847" y2="212.46" stroke="#fff" stroke-width="1.5" stroke-linecap="butt"/>
<line x1="842" y1="206.98" x2="847" y2="206.98" stroke="#fff" stroke-width="1.5" stroke-linecap="butt"/>
<line x1="842" y1="201.5" x2="852" y2="201.5" stroke="#fff" stroke-width="1.7" stroke-linecap="butt"/>
<line x1="842" y1="196.06" x2="847" y2="196.06" stroke="#fff" stroke-width="1.5" stroke-linecap="butt"/>
<line x1="842" y1="190.62" x2="847" y2="190.62" stroke="#fff" stroke-width="1.5" stroke-linecap="butt"/>
<line x1="842" y1="185.18" x2="847" y2="185.18" stroke="#fff" stroke-width="1.5" stroke-linecap="butt"/>
<line x1="842" y1="179.74" x2="847" y2="179.74" stroke="#fff" stroke-width="1.5" stroke-linecap="butt"/>
<line x1="842" y1="174.3" x2="852" y2="174.3" stroke="#fff" stroke-width="1.7" stroke-linecap="butt"/>
<line x1="842" y1="168.76" x2="847" y2="168.76" stroke="#fff" stroke-width="1.5" stroke-linecap="butt"/>
<line x1="842" y1="163.22" x2="847" y2="163.22" stroke="#fff" stroke-width="1.5" stroke-linecap="butt"/>
<line x1="842" y1="157.68" x2="847" y2="157.68" stroke="#fff" stroke-width="1.5" stroke-linecap="butt"/>
<line x1="842" y1="152.14" x2="847" y2="152.14" stroke="#fff" stroke-width="1.5" stroke-linecap="butt"/>
<line x1="842" y1="146.6" x2="852" y2="146.6" stroke="#fff" stroke-width="1.7" stroke-linecap="butt"/>
<line x1="842" y1="141.04" x2="847" y2="141.04" stroke="#fff" stroke-width="1.5" stroke-linecap="butt"/>
<line x1="842" y1="135.48" x2="847" y2="135.48" stroke="#fff" stroke-width="1.5" stroke-linecap="butt"/>
<line x1="842" y1="129.92" x2="847" y2="129.92" stroke="#fff" stroke-width="1.5" stroke-linecap="butt"/>
<line x1="842" y1="124.36" x2="847" y2="124.36" stroke="#fff" stroke-width="1.5" stroke-linecap="butt"/>
<line x1="842" y1="118.8" x2="852" y2="118.8" stroke="#fff" stroke-width="1.7" stroke-linecap="butt"/>
<line x1="842" y1="113.04" x2="847" y2="113.04" stroke="#fff" stroke-width="1.5" stroke-linecap="butt"/>
<line x1="842" y1="107.28" x2="847" y2="107.28" stroke="#fff" stroke-width="1.5" stroke-linecap="butt"/>
<line x1="842" y1="101.52" x2="847" y2="101.52" stroke="#fff" stroke-width="1.5" stroke-linecap="butt"/>
<line x1="842" y1="95.76" x2="847" y2="95.76" stroke="#fff" stroke-width="1.5" stroke-linecap="butt"/>
<line x1="842" y1="90" x2="852" y2="90" stroke="#fff" stroke-width="1.7" stroke-linecap="butt"/>
<line x1="842" y1="84.49" x2="847" y2="84.49" stroke="#fff" stroke-width="1.5" stroke-linecap="butt"/>
<line x1="842" y1="78.97" x2="847" y2="78.97" stroke="#fff" stroke-width="1.5" stroke-linecap="butt"/>
<line x1="842" y1="73.46" x2="847" y2="73.46" stroke="#fff" stroke-width="1.5" stroke-linecap="butt"/>
<line x1="842" y1="67.94" x2="847" y2="67.94" stroke="#fff" stroke-width="1.5" stroke-linecap="butt"/>
<line x1="856.3" y1="400.3" x2="856.3" y2="410.7" stroke="#fff" stroke-width="1.7" stroke-linecap="butt"/>
<line x1="863.08" y1="405.6" x2="863.08" y2="410.7" stroke="#fff" stroke-width="1.5" stroke-linecap="butt"/>
<line x1="869.86" y1="405.6" x2="869.86" y2="410.7" stroke="#fff" stroke-width="1.5" stroke-linecap="butt"/>
<line x1="876.64" y1="405.6" x2="876.64" y2="410.7" stroke="#fff" stroke-width="1.5" stroke-linecap="butt"/>
<line x1="883.42" y1="405.6" x2="883.42" y2="410.7" stroke="#fff" stroke-width="1.5" stroke-linecap="butt"/>
<line x1="890.2" y1="400.3" x2="890.2" y2="410.7" stroke="#fff" stroke-width="1.7" stroke-linecap="butt"/>
<line x1="896.96" y1="405.6" x2="896.96" y2="410.7" stroke="#fff" stroke-width="1.5" stroke-linecap="butt"/>
<line x1="903.72" y1="405.6" x2="903.72" y2="410.7" stroke="#fff" stroke-width="1.5" stroke-linecap="butt"/>
<line x1="910.48" y1="405.6" x2="910.48" y2="410.7" stroke="#fff" stroke-width="1.5" stroke-linecap="butt"/>
<line x1="917.24" y1="405.6" x2="917.24" y2="410.7" stroke="#fff" stroke-width="1.5" stroke-linecap="butt"/>
<line x1="924" y1="400.3" x2="924" y2="410.7" stroke="#fff" stroke-width="1.7" stroke-linecap="butt"/>
<line x1="930.88" y1="405.6" x2="930.88" y2="410.7" stroke="#fff" stroke-width="1.5" stroke-linecap="butt"/>
<line x1="937.76" y1="405.6" x2="937.76" y2="410.7" stroke="#fff" stroke-width="1.5" stroke-linecap="butt"/>
<line x1="944.64" y1="405.6" x2="944.64" y2="410.7" stroke="#fff" stroke-width="1.5" stroke-linecap="butt"/>
<line x1="951.52" y1="405.6" x2="951.52" y2="410.7" stroke="#fff" stroke-width="1.5" stroke-linecap="butt"/>
<line x1="958.4" y1="400.3" x2="958.4" y2="410.7" stroke="#fff" stroke-width="1.7" stroke-linecap="butt"/>
<line x1="965.16" y1="405.6" x2="965.16" y2="410.7" stroke="#fff" stroke-width="1.5" stroke-linecap="butt"/>
<line x1="971.92" y1="405.6" x2="971.92" y2="410.7" stroke="#fff" stroke-width="1.5" stroke-linecap="butt"/>
<line x1="978.68" y1="405.6" x2="978.68" y2="410.7" stroke="#fff" stroke-width="1.5" stroke-linecap="butt"/>
<line x1="985.44" y1="405.6" x2="985.44" y2="410.7" stroke="#fff" stroke-width="1.5" stroke-linecap="butt"/>
<line x1="992.2" y1="400.3" x2="992.2" y2="410.7" stroke="#fff" stroke-width="1.7" stroke-linecap="butt"/>
<line x1="998.92" y1="405.6" x2="998.92" y2="410.7" stroke="#fff" stroke-width="1.5" stroke-linecap="butt"/>
<line x1="1005.64" y1="405.6" x2="1005.64" y2="410.7" stroke="#fff" stroke-width="1.5" stroke-linecap="butt"/>
<line x1="1012.36" y1="405.6" x2="1012.36" y2="410.7" stroke="#fff" stroke-width="1.5" stroke-linecap="butt"/>
<line x1="1019.08" y1="405.6" x2="1019.08" y2="410.7" stroke="#fff" stroke-width="1.5" stroke-linecap="butt"/>
<line x1="1025.8" y1="400.3" x2="1025.8" y2="410.7" stroke="#fff" stroke-width="1.7" stroke-linecap="butt"/>
<line x1="1032.64" y1="405.6" x2="1032.64" y2="410.7" stroke="#fff" stroke-width="1.5" stroke-linecap="butt"/>
<line x1="1039.48" y1="405.6" x2="1039.48" y2="410.7" stroke="#fff" stroke-width="1.5" stroke-linecap="butt"/>
<line x1="1046.32" y1="405.6" x2="1046.32" y2="410.7" stroke="#fff" stroke-width="1.5" stroke-linecap="butt"/>
<line x1="1053.16" y1="405.6" x2="1053.16" y2="410.7" stroke="#fff" stroke-width="1.5" stroke-linecap="butt"/>
<line x1="1060" y1="400.3" x2="1060" y2="410.7" stroke="#fff" stroke-width="1.7" stroke-linecap="butt"/>
<line x1="1066.82" y1="405.6" x2="1066.82" y2="410.7" stroke="#fff" stroke-width="1.5" stroke-linecap="butt"/>
<line x1="1073.64" y1="405.6" x2="1073.64" y2="410.7" stroke="#fff" stroke-width="1.5" stroke-linecap="butt"/>
<line x1="1080.46" y1="405.6" x2="1080.46" y2="410.7" stroke="#fff" stroke-width="1.5" stroke-linecap="butt"/>
<line x1="1087.28" y1="405.6" x2="1087.28" y2="410.7" stroke="#fff" stroke-width="1.5" stroke-linecap="butt"/>
<line x1="1094.1" y1="400.3" x2="1094.1" y2="410.7" stroke="#fff" stroke-width="1.7" stroke-linecap="butt"/>
<line x1="1100.92" y1="405.6" x2="1100.92" y2="410.7" stroke="#fff" stroke-width="1.5" stroke-linecap="butt"/>
<line x1="1107.74" y1="405.6" x2="1107.74" y2="410.7" stroke="#fff" stroke-width="1.5" stroke-linecap="butt"/>
<line x1="1114.56" y1="405.6" x2="1114.56" y2="410.7" stroke="#fff" stroke-width="1.5" stroke-linecap="butt"/>
<line x1="1121.38" y1="405.6" x2="1121.38" y2="410.7" stroke="#fff" stroke-width="1.5" stroke-linecap="butt"/>
<line x1="1128.2" y1="400.3" x2="1128.2" y2="410.7" stroke="#fff" stroke-width="1.7" stroke-linecap="butt"/>
<line x1="1135" y1="405.6" x2="1135" y2="410.7" stroke="#fff" stroke-width="1.5" stroke-linecap="butt"/>
<line x1="1141.8" y1="405.6" x2="1141.8" y2="410.7" stroke="#fff" stroke-width="1.5" stroke-linecap="butt"/>
<line x1="1148.6" y1="405.6" x2="1148.6" y2="410.7" stroke="#fff" stroke-width="1.5" stroke-linecap="butt"/>
<line x1="1155.4" y1="405.6" x2="1155.4" y2="410.7" stroke="#fff" stroke-width="1.5" stroke-linecap="butt"/>
<line x1="857" y1="367.2" x2="1161.5" y2="367.2" stroke="#fff" stroke-width="1.8" stroke-dasharray="7,5"/>
<line x1="857" y1="339.8" x2="1161.5" y2="339.8" stroke="#fff" stroke-width="1.8" stroke-dasharray="7,5"/>
<line x1="857" y1="311.3" x2="1161.5" y2="311.3" stroke="#fff" stroke-width="1.8" stroke-dasharray="7,5"/>
<line x1="857" y1="283.8" x2="1161.5" y2="283.8" stroke="#fff" stroke-width="1.8" stroke-dasharray="7,5"/>
<line x1="857" y1="256.5" x2="1161.5" y2="256.5" stroke="#fff" stroke-width="1.8" stroke-dasharray="7,5"/>
<line x1="857" y1="228.9" x2="1161.5" y2="228.9" stroke="#fff" stroke-width="1.8" stroke-dasharray="7,5"/>
<line x1="857" y1="201.5" x2="1161.5" y2="201.5" stroke="#fff" stroke-width="1.8" stroke-dasharray="7,5"/>
<line x1="857" y1="174.3" x2="1161.5" y2="174.3" stroke="#fff" stroke-width="1.8" stroke-dasharray="7,5"/>
<line x1="857" y1="146.6" x2="1161.5" y2="146.6" stroke="#fff" stroke-width="1.8" stroke-dasharray="7,5"/>
<line x1="857" y1="118.8" x2="1161.5" y2="118.8" stroke="#fff" stroke-width="1.8" stroke-dasharray="7,5"/>
<line x1="857" y1="90" x2="1161.5" y2="90" stroke="#fff" stroke-width="1.8" stroke-dasharray="7,5"/>
<line x1="890.2" y1="393" x2="890.2" y2="61.5" stroke="#fff" stroke-width="1.8" stroke-dasharray="7,5"/>
<line x1="924" y1="393" x2="924" y2="61.5" stroke="#fff" stroke-width="1.8" stroke-dasharray="7,5"/>
<line x1="958.4" y1="393" x2="958.4" y2="61.5" stroke="#fff" stroke-width="1.8" stroke-dasharray="7,5"/>
<line x1="992.2" y1="393" x2="992.2" y2="61.5" stroke="#fff" stroke-width="1.8" stroke-dasharray="7,5"/>
<line x1="1025.8" y1="393" x2="1025.8" y2="61.5" stroke="#fff" stroke-width="1.8" stroke-dasharray="7,5"/>
<line x1="1060" y1="393" x2="1060" y2="61.5" stroke="#fff" stroke-width="1.8" stroke-dasharray="7,5"/>
<line x1="1094.1" y1="393" x2="1094.1" y2="61.5" stroke="#fff" stroke-width="1.8" stroke-dasharray="7,5"/>
<line x1="1128.2" y1="393" x2="1128.2" y2="61.5" stroke="#fff" stroke-width="1.8" stroke-dasharray="7,5"/>
<line x1="856" y1="63.4" x2="856" y2="410.7" stroke="#fff" stroke-width="2.1" stroke-linecap="butt"/>
<line x1="842" y1="393.8" x2="1161.5" y2="393.8" stroke="#fff" stroke-width="1.8" stroke-linecap="butt"/>
<text x="839.2" y="399.3" font-family="Liberation Sans" font-size="12.5" font-weight="normal" text-anchor="end" fill="#231815" textLength="21.2" lengthAdjust="spacingAndGlyphs">0.00</text>
<text x="839.2" y="372.7" font-family="Liberation Sans" font-size="12.5" font-weight="normal" text-anchor="end" fill="#231815" textLength="21.2" lengthAdjust="spacingAndGlyphs">0.05</text>
<text x="839.2" y="345.3" font-family="Liberation Sans" font-size="12.5" font-weight="normal" text-anchor="end" fill="#231815" textLength="21.2" lengthAdjust="spacingAndGlyphs">0.10</text>
<text x="839.2" y="316.8" font-family="Liberation Sans" font-size="12.5" font-weight="normal" text-anchor="end" fill="#231815" textLength="21.2" lengthAdjust="spacingAndGlyphs">0.15</text>
<text x="839.2" y="289.3" font-family="Liberation Sans" font-size="12.5" font-weight="normal" text-anchor="end" fill="#231815" textLength="21.2" lengthAdjust="spacingAndGlyphs">0.20</text>
<text x="839.2" y="262" font-family="Liberation Sans" font-size="12.5" font-weight="normal" text-anchor="end" fill="#231815" textLength="21.2" lengthAdjust="spacingAndGlyphs">0.25</text>
<text x="839.2" y="234.4" font-family="Liberation Sans" font-size="12.5" font-weight="normal" text-anchor="end" fill="#231815" textLength="21.2" lengthAdjust="spacingAndGlyphs">0.30</text>
<text x="839.2" y="207" font-family="Liberation Sans" font-size="12.5" font-weight="normal" text-anchor="end" fill="#231815" textLength="21.2" lengthAdjust="spacingAndGlyphs">0.35</text>
<text x="839.2" y="179.8" font-family="Liberation Sans" font-size="12.5" font-weight="normal" text-anchor="end" fill="#231815" textLength="21.2" lengthAdjust="spacingAndGlyphs">0.40</text>
<text x="839.2" y="152.1" font-family="Liberation Sans" font-size="12.5" font-weight="normal" text-anchor="end" fill="#231815" textLength="21.2" lengthAdjust="spacingAndGlyphs">0.45</text>
<text x="839.2" y="124.3" font-family="Liberation Sans" font-size="12.5" font-weight="normal" text-anchor="end" fill="#231815" textLength="21.2" lengthAdjust="spacingAndGlyphs">0.50</text>
<text x="839.2" y="95.5" font-family="Liberation Sans" font-size="12.5" font-weight="normal" text-anchor="end" fill="#231815" textLength="21.2" lengthAdjust="spacingAndGlyphs">0.55</text>
<text x="855.7" y="430.4" font-family="Liberation Sans" font-size="14" font-weight="normal" text-anchor="middle" fill="#231815" textLength="6.8" lengthAdjust="spacingAndGlyphs">0</text>
<text x="890.4" y="430.4" font-family="Liberation Sans" font-size="14" font-weight="normal" text-anchor="middle" fill="#231815" textLength="17.2" lengthAdjust="spacingAndGlyphs">2.5</text>
<text x="923.9" y="430.4" font-family="Liberation Sans" font-size="14" font-weight="normal" text-anchor="middle" fill="#231815" textLength="17.0" lengthAdjust="spacingAndGlyphs">5.0</text>
<text x="957.5" y="430.4" font-family="Liberation Sans" font-size="14" font-weight="normal" text-anchor="middle" fill="#231815" textLength="17.0" lengthAdjust="spacingAndGlyphs">7.5</text>
<text x="990.8" y="430.4" font-family="Liberation Sans" font-size="14" font-weight="normal" text-anchor="middle" fill="#231815" textLength="23.4" lengthAdjust="spacingAndGlyphs">10.0</text>
<text x="1024.3" y="430.4" font-family="Liberation Sans" font-size="14" font-weight="normal" text-anchor="middle" fill="#231815" textLength="22.4" lengthAdjust="spacingAndGlyphs">12.5</text>
<text x="1056.6" y="430.4" font-family="Liberation Sans" font-size="14" font-weight="normal" text-anchor="middle" fill="#231815" textLength="23.0" lengthAdjust="spacingAndGlyphs">15.0</text>
<text x="1093.5" y="430.4" font-family="Liberation Sans" font-size="14" font-weight="normal" text-anchor="middle" fill="#231815" textLength="22.4" lengthAdjust="spacingAndGlyphs">17.5</text>
<text x="1129.7" y="430.4" font-family="Liberation Sans" font-size="14" font-weight="normal" text-anchor="middle" fill="#231815" textLength="23.7" lengthAdjust="spacingAndGlyphs">20.0</text>
<text x="1162.7" y="430.4" font-family="Liberation Sans" font-size="14" font-weight="normal" text-anchor="middle" fill="#231815" textLength="23.7" lengthAdjust="spacingAndGlyphs">22.5</text>
<text x="1003.2" y="456" font-family="Liberation Sans" font-size="15" font-weight="bold" text-anchor="middle" fill="#231815" >CFM</text>
<text font-family="Liberation Sans" font-size="16" font-weight="bold" fill="#231815" transform="translate(801.1,257.8) rotate(-90)">inH<tspan font-size="8.5">2</tspan>O</text>
<path d="M856,174.8 C886.67,179.87 921.09,184.23 948,190 C967.75,194.23 981.05,195.54 996,204.8 C1013.11,215.4 1029.52,232.86 1044.2,249.6 C1059.45,266.99 1072.17,284.96 1085.8,307.2 C1102.03,333.69 1117.8,366.27 1133.8,395.8" fill="none" stroke="#9e9e9e" stroke-width="4.4" stroke-linejoin="round"/>
<path d="M856,83.5 C883.07,87.67 912.16,88.51 937.2,96 C960.42,102.94 982.96,117.67 1000.8,126.8 C1011.62,132.34 1014.93,131.42 1023.2,140 C1036.73,154.02 1053.2,174.28 1066.2,194.6 C1080.33,216.68 1092.61,237.86 1104.6,267.2 C1111,286 1136,355 1148.4,395.8" fill="none" stroke="#00a4e4" stroke-width="4.6" stroke-linejoin="round"/>
<circle cx="856" cy="174.8" r="3.5" fill="#231815" stroke="none" stroke-width="0"/>
<circle cx="948" cy="190" r="3.5" fill="#231815" stroke="none" stroke-width="0"/>
<circle cx="996" cy="204.8" r="3.5" fill="#231815" stroke="none" stroke-width="0"/>
<circle cx="1044.2" cy="249.6" r="3.5" fill="#231815" stroke="none" stroke-width="0"/>
<circle cx="1085.8" cy="307.2" r="3.5" fill="#231815" stroke="none" stroke-width="0"/>
<circle cx="1133.8" cy="395.8" r="3.5" fill="#231815" stroke="none" stroke-width="0"/>
<path d="M852.7,80.2 L859.3,86.8 M859.3,80.2 L852.7,86.8" stroke="#231815" stroke-width="2.3"/>
<path d="M933.9,92.7 L940.5,99.3 M940.5,92.7 L933.9,99.3" stroke="#231815" stroke-width="2.3"/>
<path d="M997.5,123.5 L1004.1,130.1 M1004.1,123.5 L997.5,130.1" stroke="#231815" stroke-width="2.3"/>
<path d="M1019.9,136.7 L1026.5,143.3 M1026.5,136.7 L1019.9,143.3" stroke="#231815" stroke-width="2.3"/>
<path d="M1062.9,191.3 L1069.5,197.9 M1069.5,191.3 L1062.9,197.9" stroke="#231815" stroke-width="2.3"/>
<path d="M1101.3,263.9 L1107.9,270.5 M1107.9,263.9 L1101.3,270.5" stroke="#231815" stroke-width="2.3"/>
<path d="M1145.1,392.5 L1151.7,399.1 M1151.7,392.5 L1145.1,399.1" stroke="#231815" stroke-width="2.3"/>
<rect x="1022" y="44.5" width="15" height="5" fill="#00a4e4"/>
<path d="M1034.8,43.8 L1041.2,50.2 M1041.2,43.8 L1034.8,50.2" stroke="#231815" stroke-width="2.2"/>
<text x="1043.5" y="52.3" font-family="Liberation Sans" font-size="15" font-weight="normal" text-anchor="start" fill="#231815" textLength="38.5" lengthAdjust="spacingAndGlyphs">60Hz</text>
<rect x="1096" y="44.5" width="16" height="5" fill="#9e9e9e"/>
<circle cx="1113" cy="47" r="3.3" fill="#231815" stroke="none" stroke-width="0"/>
<text x="1119.4" y="52.3" font-family="Liberation Sans" font-size="15" font-weight="normal" text-anchor="start" fill="#231815" textLength="38" lengthAdjust="spacingAndGlyphs">50Hz</text>
</svg>
</body></html>
